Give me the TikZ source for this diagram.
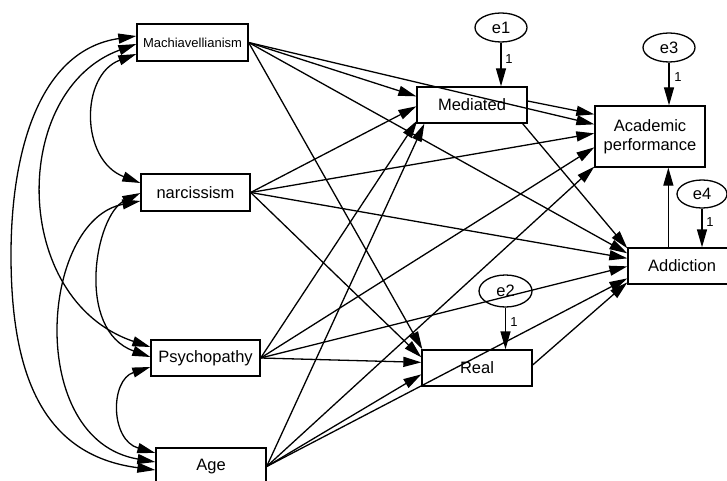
\documentclass[tikz,border=0pt]{standalone}
\usepackage{fontspec}
\setmainfont{Liberation Sans}
\usetikzlibrary{arrows.meta,calc,shapes.geometric}
\begin{document}
\begin{tikzpicture}[x={(1pt,0pt)},y={(0pt,-1pt)},
  line width=1.3pt,
  box/.style={draw, rectangle, inner sep=0pt, font=\fontsize{16.5}{19}\selectfont, align=center},
  err/.style={draw, ellipse, inner sep=0pt, minimum width=52pt, minimum height=29pt, font=\fontsize{16.5}{19}\selectfont},
  reg/.style={-{Triangle[length=18pt,width=10pt]}},
  cov/.style={{Triangle[length=18pt,width=10pt]}-{Triangle[length=18pt,width=10pt]}},
  one/.style={font=\fontsize{13}{15}\selectfont, inner sep=0pt},
]
\useasboundingbox (0,0) rectangle (727,481);

% exogenous boxes
\node[box, minimum width=111pt, minimum height=37pt, font=\fontsize{13}{15}\selectfont] (mach) at (192.5,42.5) {Machiavellianism};
\node[box, minimum width=109pt, minimum height=37pt] (narc) at (195.5,192.5) {narcissism};
\node[box, minimum width=109pt, minimum height=36pt] (psy) at (205.5,358) {Psychopathy};
\node[box, minimum width=110pt, minimum height=37pt] (age) at (211,466.5) {Age};

% endogenous boxes
\node[box, minimum width=110pt, minimum height=36pt] (med) at (472,105) {Mediated};
\node[box, minimum width=110pt, minimum height=36pt] (real) at (477,368) {Real};
\node[box, minimum width=110pt, minimum height=61pt] (acad) at (650,136.5) {Academic\\performance};
\node[box, minimum width=108pt, minimum height=36pt] (addi) at (682,266) {Addiction};

% error terms
\node[err] (e1) at (501,27.5) {e1};
\node[err] (e3) at (669,47.5) {e3};
\node[err, minimum width=50pt, minimum height=28pt] (e4) at (702,194) {e4};
\node[err, minimum width=53pt, minimum height=32pt] (e2) at (505.5,291) {e2};

% error paths
\draw[reg] (e1.south) -- (e1.south |- med.north);
\draw[reg] (e3.south) -- (e3.south |- acad.north);
\draw[reg] (e4.south) -- (e4.south |- addi.north);
\draw[reg] (e2.south) -- (e2.south |- real.north);
\node[one] at (509,59) {1};
\node[one] at (678,77) {1};
\node[one] at (710,222) {1};
\node[one] at (514,322) {1};

% regressions from Machiavellianism
\draw[reg] (mach.east) -- ($(med.north west)+(0,10)$);
\draw[reg] (mach.east) -- ($(acad.north west)+(0,19)$);
\draw[reg] (mach.east) -- ($(addi.north west)+(0,6)$);
\draw[reg] (mach.east) -- ($(real.north west)+(1,0)$);
% from narcissism
\draw[reg] (narc.east) -- ($(med.north west)+(0,20)$);
\draw[reg] (narc.east) -- ($(acad.north west)+(0,28)$);
\draw[reg] (narc.east) -- ($(addi.north west)+(0,11)$);
\draw[reg] (narc.east) -- ($(real.north west)+(0,8)$);
% from Psychopathy
\draw[reg] (psy.east) -- ($(med.north west)+(1,34)$);
\draw[reg] (psy.east) -- ($(acad.north west)+(0,42)$);
\draw[reg] (psy.east) -- ($(addi.north west)+(0,19)$);
\draw[reg] (psy.east) -- ($(real.north west)+(0,13)$);
% from Age
\draw[reg] (age.east) -- ($(med.south west)+(8,0)$);
\draw[reg] (age.east) -- ($(acad.south west)+(0,-1)$);
\draw[reg] (age.east) -- ($(addi.north west)+(0,31)$);
\draw[reg] (age.east) -- ($(real.north west)+(0,25)$);
% mediators
\draw[reg] ($(med.east)+(0,-4)$) -- ($(acad.north west)+(0,9)$);
\draw[reg] ($(med.south east)+(-5,0)$) -- ($(addi.north west)+(0,1)$);
\draw[reg] ($(real.east)+(0,-3)$) -- ($(addi.north west)+(0,35)$);
\draw[reg] ($(addi.north west)+(41,0)$) -- ($(acad.south west)+(74,0)$);

% covariances
\draw[cov] ($(mach.west)+(0,11.5)$) .. controls (80,75) and (80,160) .. ($(narc.west)+(0,-9.5)$);
\draw[cov] ($(mach.west)+(0,1.5)$) .. controls (10,90) and (10,300) .. ($(psy.west)+(0,-11)$);
\draw[cov] ($(mach.west)+(0,-6.5)$) .. controls (40,50) and (11,150) .. (11,255) .. controls (11,370) and (40,455) .. ($(age.west)+(0,3.5)$);
\draw[cov] ($(narc.west)+(0,0.5)$) .. controls (95,215) and (75,330) .. ($(psy.west)+(0,-1)$);
\draw[cov] ($(narc.west)+(0,8.5)$) .. controls (40,220) and (25,440) .. ($(age.west)+(0,-4.5)$);
\draw[cov] ($(psy.west)+(0,9)$) .. controls (110,380) and (110,440) .. ($(age.west)+(0,-13.5)$);
\end{tikzpicture}
\end{document}
